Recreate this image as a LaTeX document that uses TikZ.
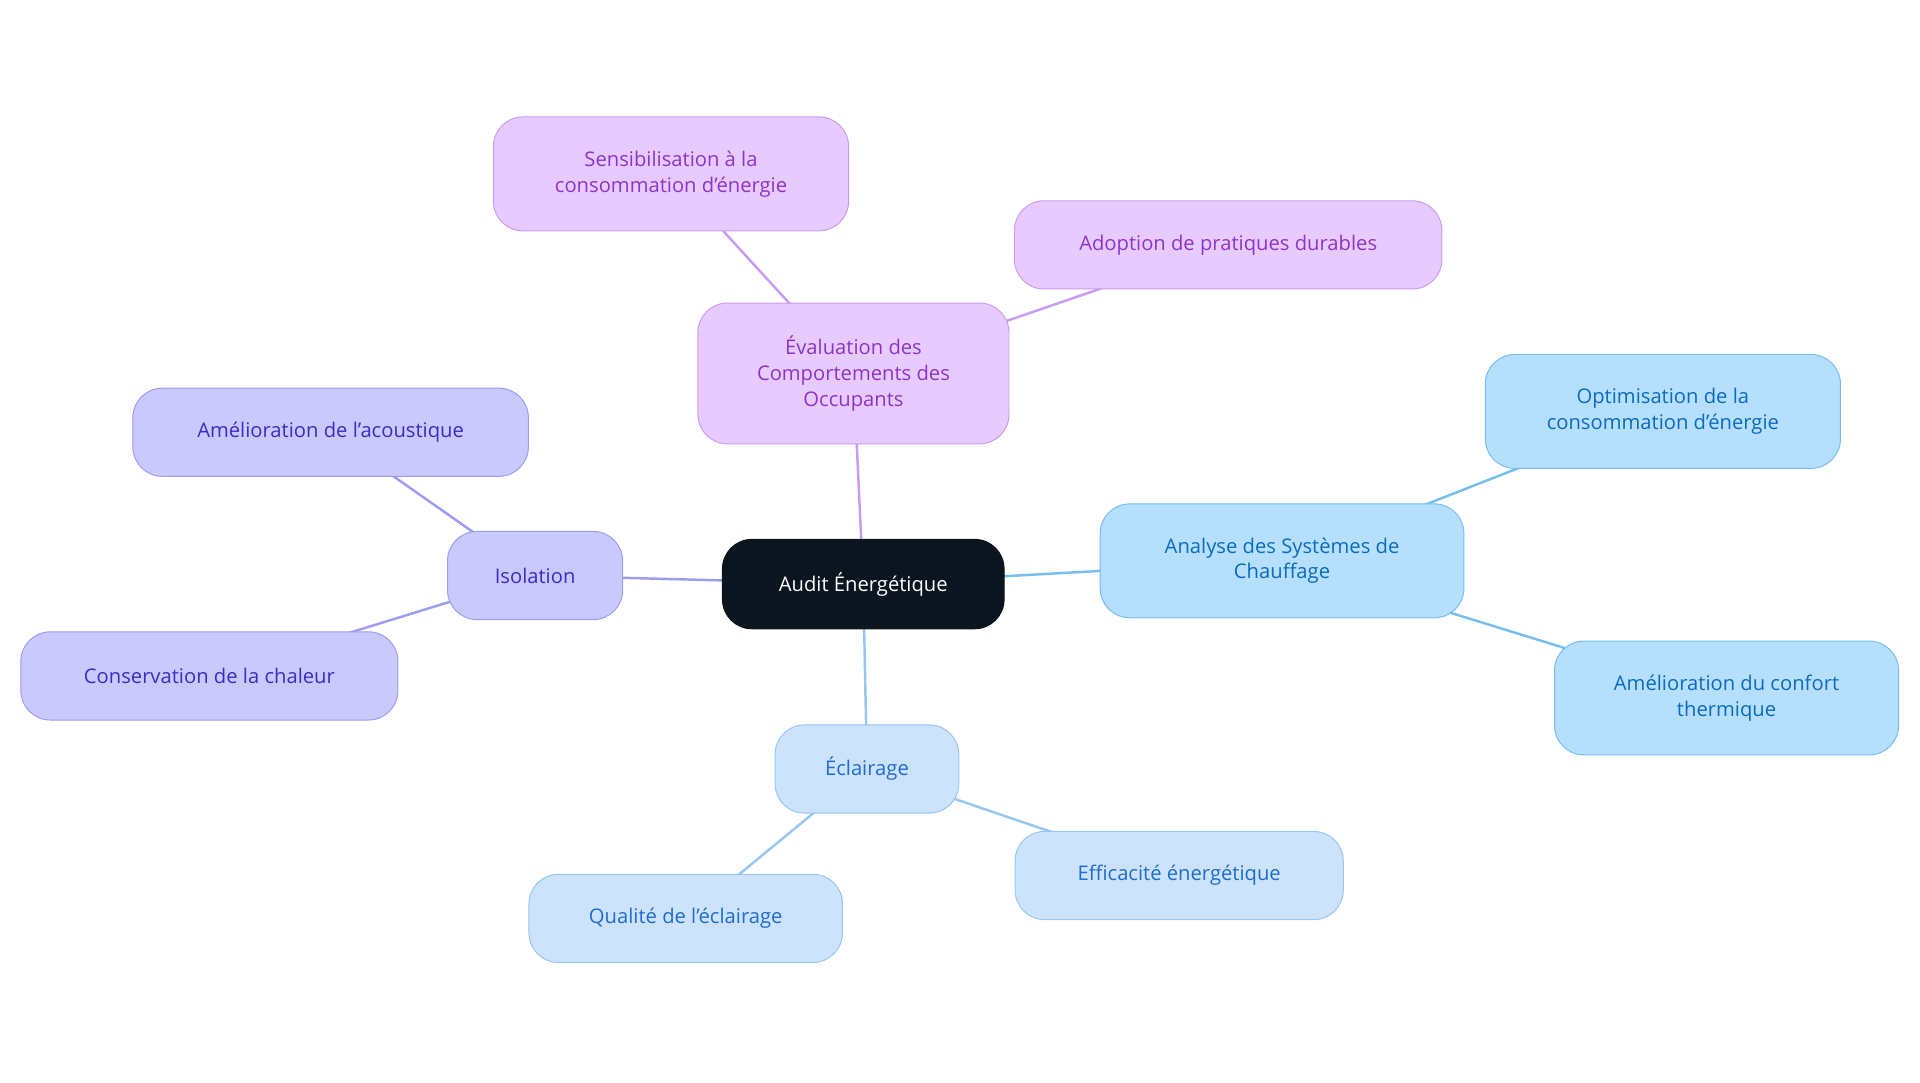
\documentclass[tikz,border=0pt]{standalone}
\usepackage{fontspec}
\setmainfont{Open Sans}
\usetikzlibrary{backgrounds}
\definecolor{rootf}{HTML}{0B1520}
\definecolor{pf}{HTML}{E8CBFE}\definecolor{pd}{HTML}{C99BF2}\definecolor{pt}{HTML}{8E35C8}\definecolor{pe}{HTML}{C99BF2}
\definecolor{bf}{HTML}{B5DFFD}\definecolor{bd}{HTML}{76BEF0}\definecolor{bt}{HTML}{0B6CBE}\definecolor{be}{HTML}{76BEF0}
\definecolor{lf}{HTML}{CDE3FC}\definecolor{ld}{HTML}{96C6F2}\definecolor{lt}{HTML}{1D6ED0}\definecolor{le}{HTML}{96C6F2}
\definecolor{vf}{HTML}{C9C9FC}\definecolor{vd}{HTML}{9D9DF0}\definecolor{vt}{HTML}{3A2EC6}\definecolor{ve}{HTML}{9D9DF0}
\tikzset{
 box/.style={rounded corners=24pt,inner sep=0pt,align=center,font=\fontsize{16.5}{21}\selectfont,line width=0.8pt},
 pbox/.style={box,fill=pf,draw=pd,text=pt},
 bbox/.style={box,fill=bf,draw=bd,text=bt},
 lbox/.style={box,fill=lf,draw=ld,text=lt},
 vbox/.style={box,fill=vf,draw=vd,text=vt},
 ed/.style={line width=2pt}
}
\begin{document}
\begin{tikzpicture}[x=1pt,y=-1pt]
\useasboundingbox (0,0) rectangle (1568,884);
\node[box,fill=rootf,draw=rootf,text=white,minimum width=230pt,minimum height=73pt] (root) at (705,477) {Audit Énergétique};
\node[pbox,minimum width=254pt,minimum height=115pt] (eval) at (697,305) {Évaluation des\\Comportements des\\Occupants};
\node[pbox,minimum width=290pt,minimum height=93pt] (sens) at (548,142) {Sensibilisation à la\\consommation d'énergie};
\node[pbox,minimum width=349pt,minimum height=72pt] (adop) at (1003,200) {Adoption de pratiques durables};
\node[bbox,minimum width=297pt,minimum height=93pt] (anal) at (1047,458) {Analyse des Systèmes de\\Chauffage};
\node[bbox,minimum width=290pt,minimum height=93pt] (opti) at (1358,336) {Optimisation de la\\consommation d'énergie};
\node[bbox,minimum width=281pt,minimum height=93pt] (conf) at (1410,570) {Amélioration du confort\\thermique};
\node[lbox,minimum width=150pt,minimum height=72pt] (ecl) at (708,628) {Éclairage};
\node[lbox,minimum width=268pt,minimum height=72pt] (eff) at (963,715) {Efficacité énergétique};
\node[lbox,minimum width=256pt,minimum height=72pt] (qual) at (560,750) {Qualité de l'éclairage};
\node[vbox,minimum width=143pt,minimum height=72pt] (iso) at (437,470) {Isolation};
\node[vbox,minimum width=323pt,minimum height=72pt] (acou) at (270,353) {Amélioration de l'acoustique};
\node[vbox,minimum width=308pt,minimum height=72pt] (cons) at (171,552) {Conservation de la chaleur};
\begin{pgfonlayer}{background}
\draw[ed,pe] (root.center) -- (eval.center);
\draw[ed,pe] (eval.center) -- (sens.center);
\draw[ed,pe] (eval.center) -- (adop.center);
\draw[ed,be] (root.center) -- (anal.center);
\draw[ed,be] (anal.center) -- (opti.center);
\draw[ed,be] (anal.center) -- (conf.center);
\draw[ed,le] (root.center) -- (ecl.center);
\draw[ed,le] (ecl.center) -- (eff.center);
\draw[ed,le] (ecl.center) -- (qual.center);
\draw[ed,ve] (root.center) -- (iso.center);
\draw[ed,ve] (iso.center) -- (acou.center);
\draw[ed,ve] (iso.center) -- (cons.center);
\end{pgfonlayer}
\end{tikzpicture}
\end{document}
